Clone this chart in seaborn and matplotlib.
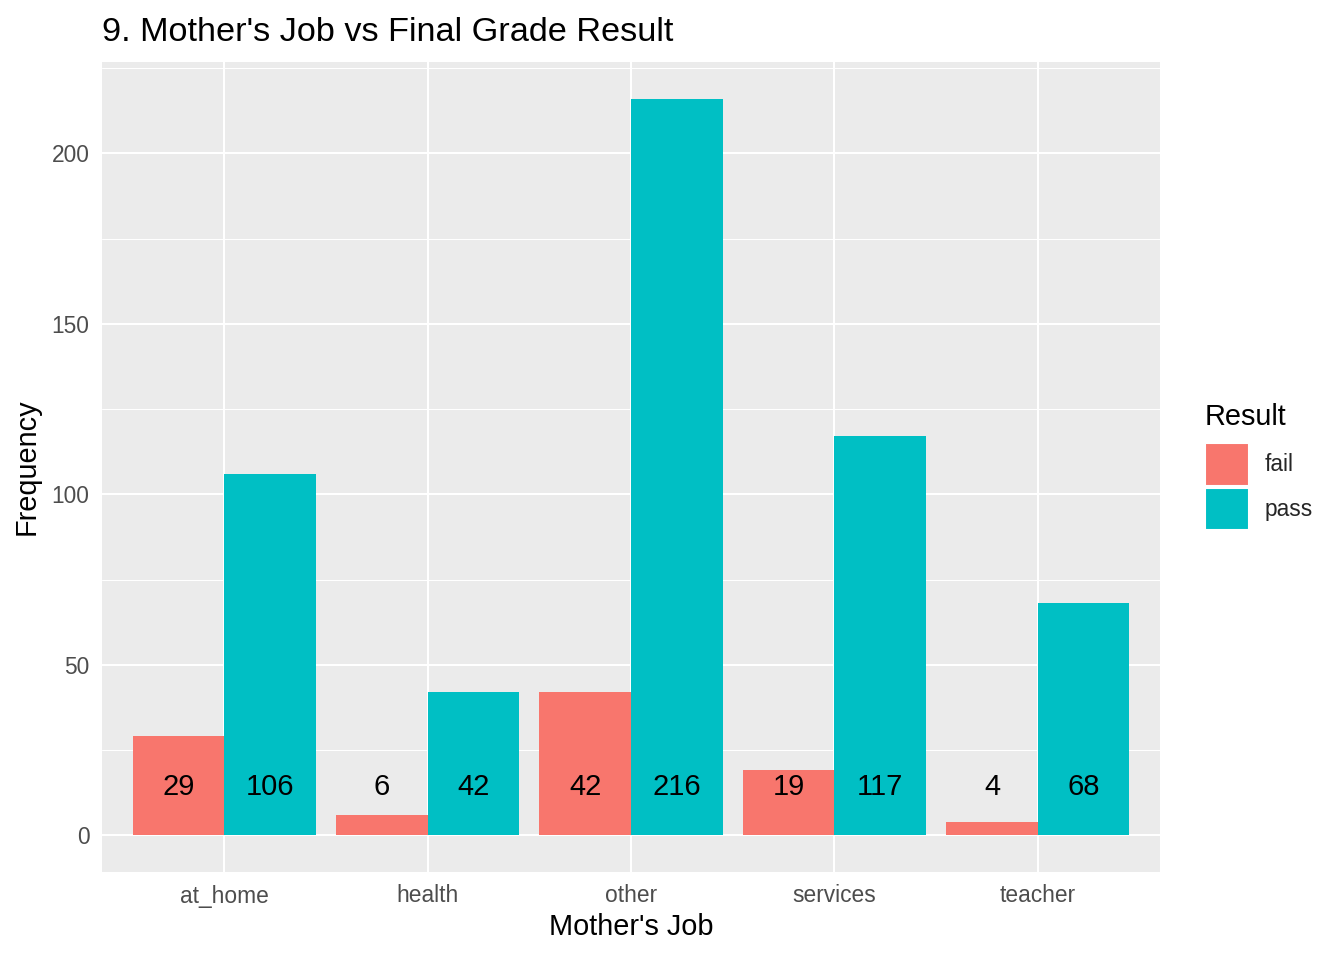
import pandas as pd
import matplotlib
import matplotlib.pyplot as plt
from matplotlib.patches import Patch
from matplotlib.ticker import MultipleLocator
import seaborn as sns

matplotlib.use("Agg")

# data
jobs = ["at_home", "health", "other", "services", "teacher"]
fail_counts = [29, 6, 42, 19, 4]
pass_counts = [106, 42, 216, 117, 68]
results = ["fail", "pass"]

COLORS = {"fail": "#F8766D", "pass": "#00BFC4"}

df = pd.DataFrame({
    "job": jobs * 2,
    "result": ["fail"] * len(jobs) + ["pass"] * len(jobs),
    "count": fail_counts + pass_counts,
})

sns.set_theme(style="darkgrid")
plt.rcParams["font.family"] = ["Liberation Sans", "DejaVu Sans"]

fig = plt.figure(figsize=(13.44, 9.6), dpi=100)
ax = fig.add_axes([102 / 1344, 1 - 872 / 960, (1160 - 102) / 1344, (872 - 62) / 960])
ax.set_facecolor("#EBEBEB")

sns.barplot(data=df, x="job", y="count", hue="result", order=jobs,
            hue_order=results, palette=COLORS, width=0.9, gap=0,
            saturation=1, linewidth=0, ax=ax, legend=False)

# count labels at fixed height inside bars
for cont, res in zip(ax.containers, results):
    vals = df[df["result"] == res]["count"].tolist()
    for bar, v in zip(cont, vals):
        ax.text(bar.get_x() + bar.get_width() / 2, 14, str(v),
                ha="center", va="center", fontsize=21, color="black")

ax.set_xlim(-0.6, 4.6)
ax.set_ylim(-10.8, 226.8)
ax.yaxis.set_major_locator(MultipleLocator(50))
ax.yaxis.set_minor_locator(MultipleLocator(25))
ax.grid(which="major", color="white", linewidth=1.45)
ax.grid(which="minor", axis="y", color="white", linewidth=0.75)
ax.set_axisbelow(True)
for s in ax.spines.values():
    s.set_visible(False)

ax.tick_params(axis="both", which="major", labelsize=16.4, labelcolor="#4D4D4D",
               length=5, width=1.4, color="#333333", pad=4)
ax.tick_params(axis="y", which="minor", length=0)
ax.set_xlabel("Mother's Job", fontsize=20.8, color="black", labelpad=4)
ax.set_ylabel("Frequency", fontsize=20.8, color="black", labelpad=8)
ax.set_title("9. Mother's Job vs Final Grade Result", fontsize=24.7,
             loc="left", pad=15, color="black")

# legend: title as separate text so the gap to the keys matches
fig.text(1205 / 1344, 1 - 417 / 960, "Result", fontsize=20.8,
         ha="left", va="center", color="black")
handles = [Patch(facecolor=COLORS[r], edgecolor="white", linewidth=1.5, label=r)
           for r in results]
fig.legend(handles=handles, loc="upper left",
           bbox_to_anchor=(1205 / 1344, 1 - 443 / 960),
           frameon=False, fontsize=16.4,
           handlelength=1.95, handleheight=2.5, labelspacing=0.1,
           handletextpad=0.65, borderpad=0, borderaxespad=0)

fig.savefig("out.png", dpi=100)
